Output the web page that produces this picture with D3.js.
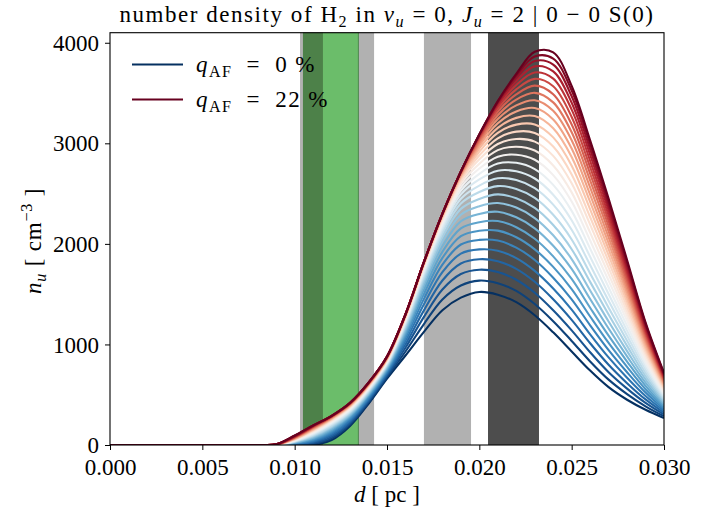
<!DOCTYPE html>
<html><head><meta charset="utf-8">
<script src="https://cdn.jsdelivr.net/npm/d3@7"></script>
<style>
body{margin:0;background:#fff;}
svg{display:block;}
text{font-family:"Liberation Serif","Times New Roman",serif;fill:#000;}
</style>
</head><body>
<svg id="chart" width="719" height="513"></svg>
<script>
// distance grid [pc]
const distances = [0, 0.008, 0.009, 0.010, 0.011, 0.012, 0.013, 0.014, 0.015, 0.016, 0.017, 0.018,
  0.019, 0.020, 0.021, 0.022, 0.023, 0.024, 0.025, 0.026, 0.027, 0.028, 0.029, 0.030];
// q_AF value [%] of each curve
const qAF = [0, 0.73, 1.47, 2.2, 2.93, 3.67, 4.4, 5.13, 5.87, 6.6, 7.33, 8.07, 8.8, 9.53, 10.27, 11,
  11.73, 12.47, 13.2, 13.93, 14.67, 15.4, 16.13, 16.87, 17.6, 18.33, 19.07, 19.8, 20.53, 21.27, 22];
// n_u [cm^-3] for each q_AF (rows) at each distance (columns)
const nuByQ = [
  [0,0,0,0,0,50,190,410,660,890,1125,1340,1465,1522,1495,1420,1290,1120,930,740,575,450,350,268],
  [0,0,0,3,10,66,205,424,676,930,1203,1447,1586,1635,1609,1533,1402,1231,1035,831,650,506,385,286],
  [0,0,0,6,19,81,220,437,691,967,1274,1546,1700,1743,1720,1643,1514,1340,1140,922,724,561,419,304],
  [0,0,0,10,29,96,234,450,706,1001,1339,1636,1805,1847,1828,1752,1623,1449,1244,1012,798,615,453,321],
  [0,0,0,13,38,110,247,462,719,1033,1399,1718,1903,1945,1932,1859,1732,1557,1347,1101,871,669,487,339],
  [0,0,0,16,47,123,260,474,733,1063,1453,1793,1994,2040,2033,1963,1840,1664,1449,1190,943,723,521,356],
  [0,0,0,19,55,136,273,486,745,1090,1502,1860,2077,2130,2132,2066,1946,1771,1550,1278,1015,777,554,373],
  [0,0,0,22,64,149,285,497,757,1115,1546,1921,2154,2216,2227,2166,2051,1876,1651,1365,1087,830,588,390],
  [0,0,1,25,73,161,296,507,769,1138,1585,1976,2225,2298,2319,2264,2155,1981,1751,1452,1158,882,620,407],
  [0,0,1,29,81,172,307,517,780,1159,1621,2025,2290,2375,2407,2361,2257,2085,1849,1537,1228,934,653,424],
  [0,0,1,32,89,183,318,527,790,1179,1652,2068,2348,2447,2492,2454,2357,2187,1947,1622,1297,986,685,441],
  [0,0,1,35,97,194,328,536,800,1196,1680,2106,2401,2516,2574,2546,2457,2289,2044,1706,1366,1037,717,457],
  [0,0,1,38,104,204,337,544,809,1211,1704,2139,2449,2580,2652,2635,2554,2390,2140,1790,1434,1087,749,473],
  [0,0,2,41,112,213,346,553,817,1225,1725,2169,2492,2641,2728,2722,2650,2489,2235,1872,1502,1137,780,489],
  [0,0,2,44,119,222,355,560,825,1238,1743,2194,2530,2697,2799,2806,2744,2587,2328,1953,1568,1186,811,505],
  [0,0,2,48,126,230,362,568,832,1249,1759,2215,2563,2749,2867,2887,2837,2684,2421,2033,1634,1235,841,521],
  [0,0,2,51,133,238,370,574,839,1258,1772,2233,2593,2797,2932,2966,2928,2780,2512,2112,1699,1283,871,537],
  [0,0,3,54,139,245,377,581,845,1267,1783,2249,2618,2841,2993,3043,3017,2875,2602,2191,1763,1330,901,552],
  [0,0,3,57,146,252,383,586,851,1274,1792,2261,2640,2881,3050,3116,3103,2968,2691,2267,1826,1377,930,567],
  [0,0,3,60,152,258,389,592,856,1280,1799,2271,2658,2918,3104,3186,3188,3059,2778,2343,1888,1423,959,582],
  [0,0,4,63,157,263,394,597,860,1285,1805,2280,2674,2950,3154,3253,3271,3149,2864,2417,1948,1468,987,596],
  [0,0,4,67,163,268,399,601,864,1289,1810,2286,2686,2979,3200,3317,3351,3237,2948,2490,2008,1512,1015,610],
  [0,0,4,70,168,273,404,605,868,1292,1813,2291,2696,3004,3242,3377,3428,3323,3030,2561,2066,1556,1042,624],
  [0,0,5,73,173,277,408,609,871,1295,1816,2294,2704,3026,3280,3434,3502,3407,3110,2631,2123,1598,1068,638],
  [0,0,5,76,178,280,411,612,874,1297,1818,2297,2710,3045,3314,3487,3574,3488,3187,2698,2178,1638,1094,651],
  [0,0,6,79,182,283,414,614,876,1298,1819,2298,2714,3060,3344,3536,3641,3567,3262,2763,2232,1678,1119,664],
  [0,0,6,82,186,286,416,616,877,1299,1819,2299,2717,3071,3369,3580,3705,3643,3335,2826,2283,1716,1143,676],
  [0,0,6,86,189,288,418,618,879,1300,1820,2300,2719,3080,3390,3618,3765,3715,3403,2886,2332,1752,1165,688],
  [0,0,7,89,192,289,419,619,879,1300,1820,2300,2720,3086,3405,3651,3818,3783,3468,2941,2377,1786,1186,699],
  [0,0,7,92,194,290,420,620,880,1300,1820,2300,2720,3089,3416,3676,3864,3843,3525,2991,2418,1817,1205,708],
  [0,0,8,95,195,290,420,620,880,1300,1820,2300,2720,3090,3420,3690,3910,3905,3570,3030,2450,1840,1220,716]
];
// shaded distance ranges [pc]
const bandStart = [0.01029, 0.01045, 0.01045, 0.01700, 0.02047];
const bandEnd   = [0.01430, 0.01345, 0.01153, 0.01955, 0.02323];
const bandFill  = ["#b1b1b1", "#6bbd6a", "#4d8149", "#b1b1b1", "#4d4d4d"];
const xTicks = [0, 0.005, 0.010, 0.015, 0.020, 0.025, 0.030];
const yTicks = [0, 1000, 2000, 3000, 4000];
const legendQ = [0, 22];

const W = 719, H = 513;
const m = {left: 110, right: 55, top: 32.7, bottom: 68};
const iw = W - m.left - m.right, ih = H - m.top - m.bottom;
const svg = d3.select("#chart");
const g = svg.append("g").attr("transform", `translate(${m.left},${m.top})`);

const x = d3.scaleLinear().domain([0, 0.030]).range([0, iw]);
const y = d3.scaleLinear().domain([0, 4100]).range([ih, 0]);
const color = d3.scaleSequential(t => d3.interpolateRdBu(1 - t)).domain([0, 22]);

svg.append("defs").append("clipPath").attr("id", "clip")
  .append("rect").attr("width", iw).attr("height", ih);

// bands
g.append("g").selectAll("rect").data(bandStart).join("rect")
  .attr("x", (d) => x(d))
  .attr("y", 0)
  .attr("width", (d, i) => x(bandEnd[i]) - x(d))
  .attr("height", ih)
  .attr("fill", (d, i) => bandFill[i]);
// edge line of green band
g.append("line").attr("x1", x(bandEnd[1])).attr("x2", x(bandEnd[1]))
  .attr("y1", 0).attr("y2", ih).attr("stroke", "#3f7a3d").attr("stroke-width", 0.8);

// curves
const line = d3.line().x((d, i) => x(distances[i])).y(d => y(d)).curve(d3.curveCatmullRom);
g.append("g").attr("clip-path", "url(#clip)")
  .selectAll("path").data(nuByQ).join("path")
  .attr("d", line)
  .attr("fill", "none")
  .attr("stroke", (d, i) => color(qAF[i]))
  .attr("stroke-width", 2.1)
  .attr("stroke-linejoin", "round");

// axes
const fs = 23;
const xAxis = g.append("g").attr("transform", `translate(0,${ih})`)
  .call(d3.axisBottom(x).tickValues(xTicks).tickFormat(d3.format(".3f")).tickSize(5).tickPadding(9));
const yAxis = g.append("g")
  .call(d3.axisLeft(y).tickValues(yTicks).tickFormat(d3.format("d")).tickSize(5).tickPadding(6));
[xAxis, yAxis].forEach(a => {
  a.select(".domain").remove();
  a.selectAll("line").attr("stroke", "#000").attr("stroke-width", 1);
  a.selectAll("text").attr("font-size", fs).attr("font-family", '"Liberation Serif",serif').attr("fill", "#000");
});
yAxis.selectAll("text").attr("dy", "0.33em");

// frame
g.append("rect").attr("width", iw).attr("height", ih)
  .attr("fill", "none").attr("stroke", "#000").attr("stroke-width", 1.1);

function rich(sel, parts, size) {
  let shift = 0;
  parts.forEach(p => {
    const target = p.sub ? size * 0.22 : p.sup ? -size * 0.38 : 0;
    const ts = sel.append("tspan").attr("dy", target - shift).text(p.t);
    shift = target;
    if (p.i) ts.attr("font-style", "italic");
    if (p.sub || p.sup) ts.attr("font-size", size * 0.7);
  });
}

// title
const title = svg.append("text").attr("x", m.left + iw / 2).attr("y", 22)
  .attr("text-anchor", "middle").attr("font-size", fs).attr("letter-spacing", 1.55)
  .attr("xml:space", "preserve");
rich(title, [
  {t: "number density of H"}, {t: "2", sub: true}, {t: " in "}, {t: "ν", i: true}, {t: "u", i: true, sub: true},
  {t: " = 0, "}, {t: "J", i: true}, {t: "u", i: true, sub: true}, {t: " = 2 | 0 − 0 S(0)"}
], fs);

// x label
const xl = svg.append("text").attr("x", m.left + iw / 2).attr("y", 502)
  .attr("text-anchor", "middle").attr("font-size", fs).attr("xml:space", "preserve");
rich(xl, [{t: "d", i: true}, {t: " [ pc ]"}], fs);

// y label
const yl = svg.append("text").attr("transform", `translate(41,${m.top + ih / 2 + 2}) rotate(-90)`)
  .attr("text-anchor", "middle").attr("font-size", fs).attr("letter-spacing", 0.8)
  .attr("xml:space", "preserve");
rich(yl, [{t: "n", i: true}, {t: "u", i: true, sub: true}, {t: " [ cm"}, {t: "−3", sup: true}, {t: " ]"}], fs);

// legend
const lg = svg.append("g");
legendQ.forEach((q, i) => {
  const yy = 64.5 + i * 35;
  lg.append("line").attr("x1", 132).attr("x2", 183).attr("y1", yy).attr("y2", yy)
    .attr("stroke", color(q)).attr("stroke-width", 2.1);
  const t = lg.append("text").attr("x", 196).attr("y", yy + 7).attr("font-size", fs)
    .attr("letter-spacing", 1.4).attr("xml:space", "preserve");
  rich(t, [{t: "q", i: true}, {t: "AF", sub: true}, {t: "  =  " + q + " %"}], fs);
});
</script>
</body></html>
